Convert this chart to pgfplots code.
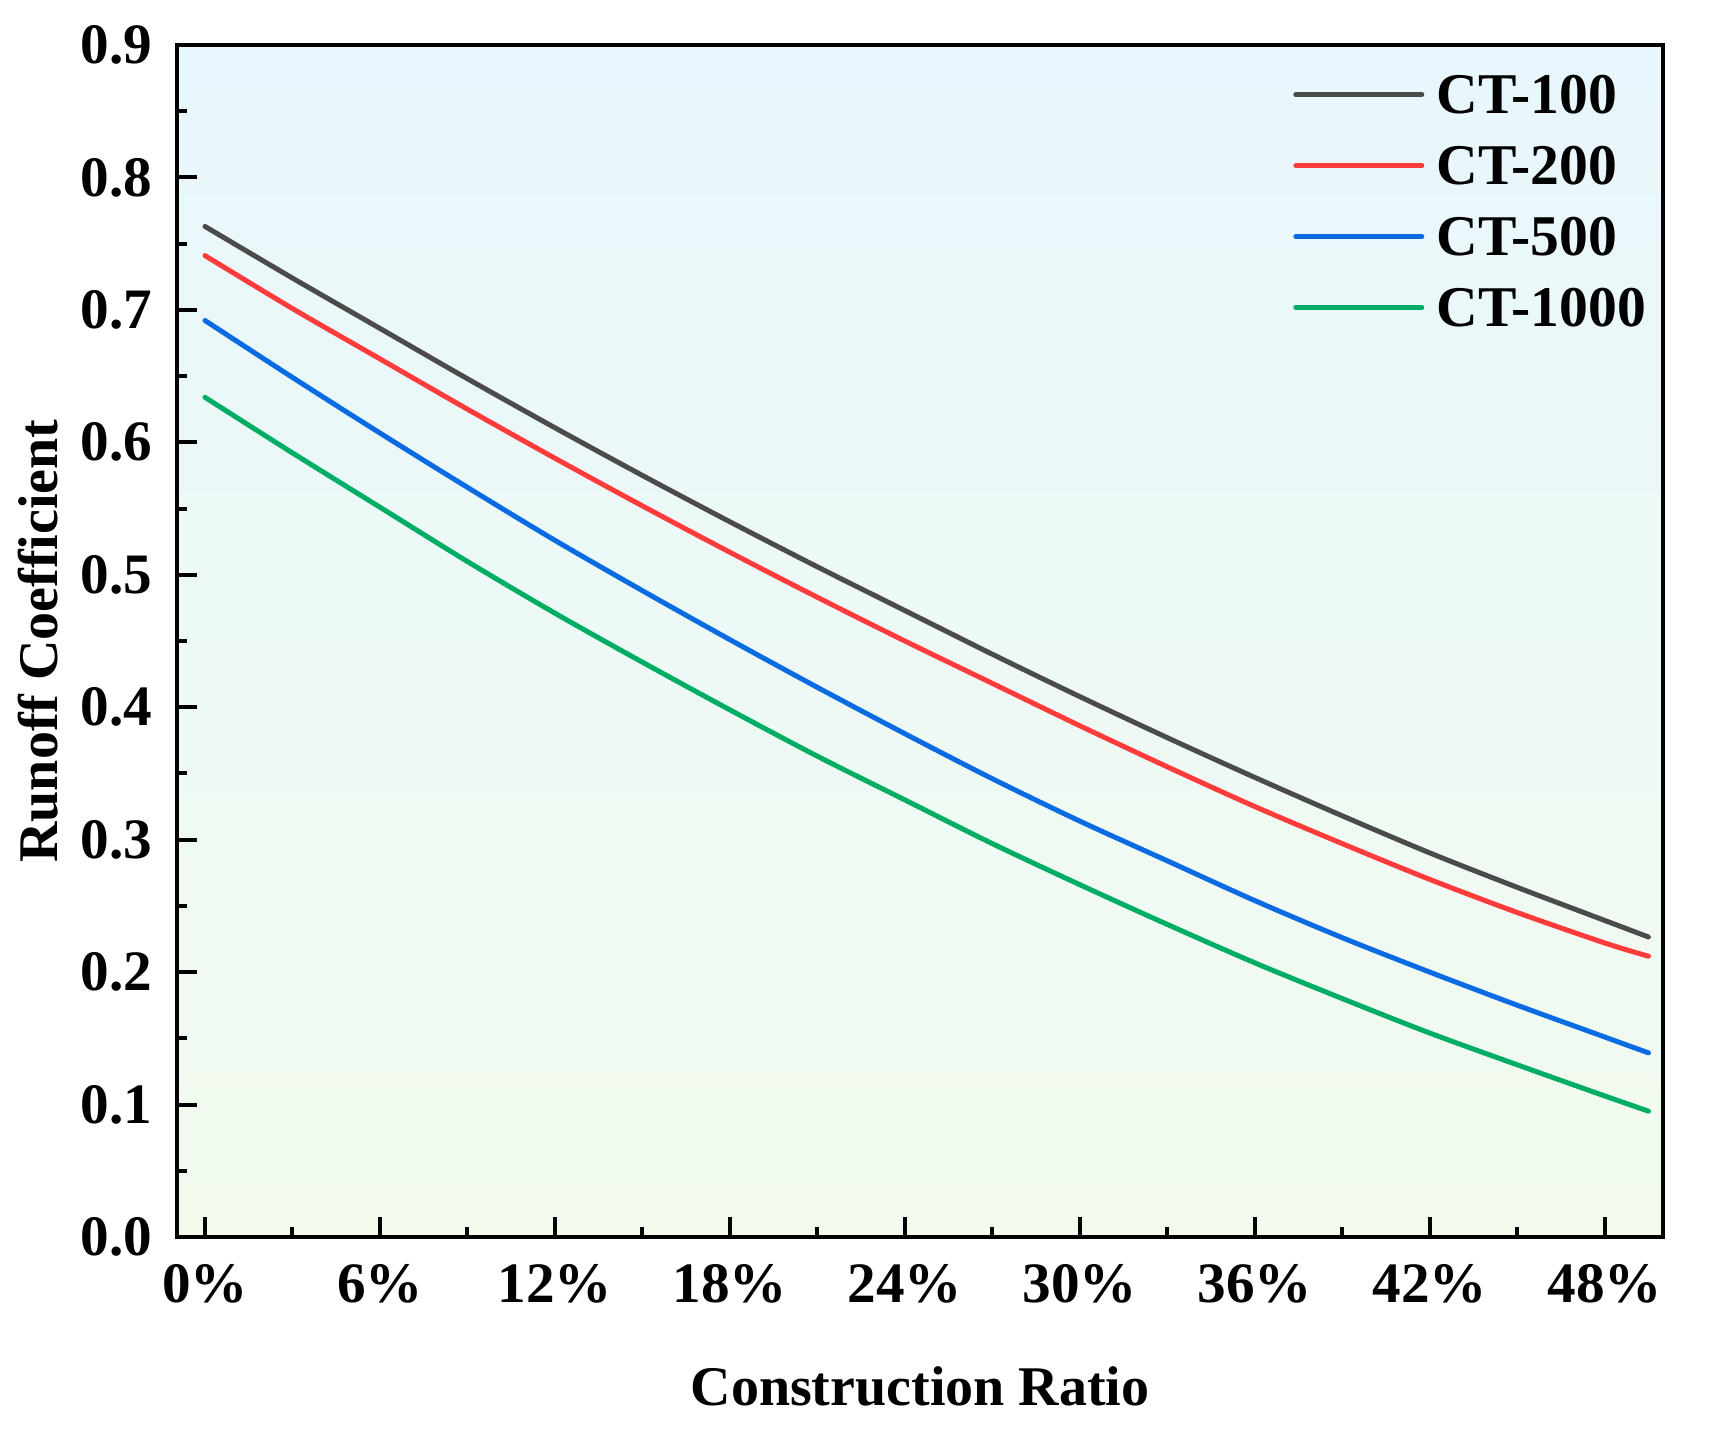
\documentclass[border=0pt]{standalone}
\usepackage{fontspec}
\setmainfont{Liberation Serif}
\usepackage{pgfplots}
\pgfplotsset{compat=1.18}
\definecolor{c100}{HTML}{4B4B4B}
\definecolor{c200}{HTML}{FF3B3B}
\definecolor{c500}{HTML}{0A6BE3}
\definecolor{c1000}{HTML}{00AD65}
\definecolor{bgtop}{HTML}{E8F7FD}
\definecolor{bgbot}{HTML}{F3FBEE}
\pgfplotstableread{
p     a      b      c      d
0     0.763  0.741  0.692  0.634
3     0.724  0.701  0.649  0.592
6     0.686  0.663  0.607  0.551
9     0.648  0.625  0.566  0.510
12    0.611  0.588  0.526  0.471
15    0.575  0.552  0.488  0.434
18    0.540  0.517  0.451  0.398
21    0.506  0.483  0.415  0.363
24    0.473  0.450  0.380  0.330
27    0.440  0.418  0.346  0.297
30    0.408  0.386  0.314  0.266
33    0.377  0.355  0.284  0.236
36    0.347  0.325  0.254  0.207
39    0.318  0.297  0.226  0.180
42    0.290  0.270  0.200  0.154
45    0.264  0.245  0.175  0.130
48    0.239  0.222  0.151  0.1065
49.5  0.2265 0.212  0.139  0.095
}\data
\newcommand{\tickfont}{\fontsize{14.3}{16}\selectfont\bfseries}
\newcommand{\legfont}{\fontsize{14.4}{16}\selectfont\bfseries}
\newcommand{\labfont}{\fontsize{14}{16}\selectfont\bfseries}
\begin{document}
\begin{tikzpicture}
\begin{axis}[
  scale only axis, width=371.5pt, height=298pt,
  xmin=-0.96, xmax=50, ymin=0, ymax=0.9,
  axis background/.style={shade, top color=bgtop, bottom color=bgbot},
  axis line style={line width=1.1pt},
  tick style={line width=1pt, black},
  major tick length=5pt, minor tick length=2.5pt,
  tick align=inside, xtick pos=bottom, ytick pos=left,
  xtick={0,6,12,18,24,30,36,42,48},
  xticklabels={0\%,6\%,12\%,18\%,24\%,30\%,36\%,42\%,48\%},
  minor x tick num=1,
  ytick={0,0.1,0.2,0.3,0.4,0.5,0.6,0.7,0.8,0.9},
  minor y tick num=1,
  /pgf/number format/assume math mode=true,
  yticklabel style={/pgf/number format/fixed, /pgf/number format/fixed zerofill, /pgf/number format/precision=1, xshift=-2.7pt},
  xticklabel style={yshift=-3.3pt},
  ticklabel style={font=\tickfont},
  label style={font=\labfont},
  xlabel={Construction Ratio}, ylabel={Runoff Coefficient},
  xlabel style={at={(axis description cs:0.5,-0.125)}, anchor=center},
  ylabel style={at={(axis description cs:-0.0935,0.5)}, anchor=center},
  legend style={draw=none, fill=none, inner sep=0pt, outer sep=0pt,
    at={(axis description cs:0.7512,0.8691)}, anchor=west,
    row sep=4.65pt, font=\legfont,
    nodes={inner sep=1.75pt, text height=9.6pt, text depth=0pt},
    /tikz/every odd column/.append style={column sep=1.4pt}},
  legend cell align=left,
  legend image code/.code={\draw[#1, line width=1.25pt, line cap=round] (0pt,0pt) -- (31.5pt,0pt);},
  every axis plot/.append style={line width=1.25pt, line cap=round, line join=round},
  clip=false,
]
\addplot[c100, smooth] table[x=p, y=a] {\data};
\addlegendentry{CT-100}
\addplot[c200, smooth] table[x=p, y=b] {\data};
\addlegendentry{CT-200}
\addplot[c500, smooth] table[x=p, y=c] {\data};
\addlegendentry{CT-500}
\addplot[c1000, smooth] table[x=p, y=d] {\data};
\addlegendentry{CT-1000}
\coordinate (ll) at (rel axis cs:0,0);
\coordinate (ur) at (rel axis cs:1,1);
\end{axis}
\pgfresetboundingbox
\path ([shift={(-44.25pt,-50pt)}]ll) rectangle ([shift={(11.5pt,11.25pt)}]ur);
\end{tikzpicture}
\end{document}
